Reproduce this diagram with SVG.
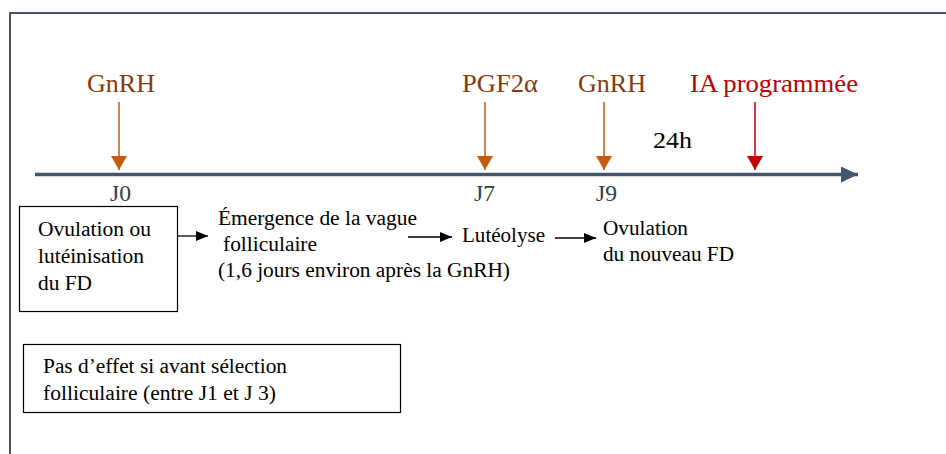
<svg xmlns="http://www.w3.org/2000/svg" width="946" height="454" viewBox="0 0 946 454" font-family="'Liberation Serif', 'Times New Roman', 'DejaVu Serif', serif">
<style>
.drug{font-size:26px;fill:#843c0c;}
.ia{font-size:26px;fill:#c00000;}
.day{font-size:23px;fill:#333f50;}
.t{font-size:20px;fill:#000;}
.box{fill:#fff;stroke:#000;stroke-width:1.2;}
.org{stroke:#c55a11;stroke-width:1.5;fill:none;}
.red{stroke:#c00000;stroke-width:1.5;fill:none;}
.blk{stroke:#000;stroke-width:1.3;fill:none;}
</style>
<defs>
<marker id="ho" markerWidth="14" markerHeight="16" refX="14" refY="8" orient="auto" markerUnits="userSpaceOnUse"><path d="M0,0 L14,8 L0,16 Z" fill="#c55a11"/></marker>
<marker id="hr" markerWidth="14" markerHeight="16" refX="14" refY="8" orient="auto" markerUnits="userSpaceOnUse"><path d="M0,0 L14,8 L0,16 Z" fill="#c00000"/></marker>
<marker id="hb" markerWidth="12" markerHeight="10" refX="12" refY="5" orient="auto" markerUnits="userSpaceOnUse"><path d="M0,0 L12,5 L0,10 Z" fill="#000"/></marker>
<marker id="ht" markerWidth="17" markerHeight="16" refX="17" refY="8" orient="auto" markerUnits="userSpaceOnUse"><path d="M0,0 L17,8 L0,16 Z" fill="#44546a"/></marker>
</defs>
<rect width="946" height="454" fill="#fff"/>
<path d="M10,460 L10,13 L960,13" fill="none" stroke="#44546a" stroke-width="2"/>
<g id="connectors">
<line x1="35" y1="174.5" x2="858" y2="174.5" stroke="#44546a" stroke-width="3.5" marker-end="url(#ht)"/>
<line class="org" x1="119" y1="102" x2="119" y2="170" marker-end="url(#ho)"/>
<line class="org" x1="485" y1="102" x2="485" y2="170" marker-end="url(#ho)"/>
<line class="org" x1="604" y1="102" x2="604" y2="170" marker-end="url(#ho)"/>
<line class="red" x1="755" y1="102" x2="755" y2="170" marker-end="url(#hr)"/>
<line class="blk" x1="178" y1="236" x2="208" y2="236" marker-end="url(#hb)"/>
<line class="blk" x1="408" y1="237" x2="452" y2="237" marker-end="url(#hb)"/>
<line class="blk" x1="555" y1="238" x2="596" y2="238" marker-end="url(#hb)"/>
</g>
<g id="gnrh1"><text class="drug" x="87" y="92" textLength="68" lengthAdjust="spacingAndGlyphs">GnRH</text></g>
<g id="pgf"><text class="drug" x="462" y="92" textLength="76" lengthAdjust="spacingAndGlyphs">PGF2α</text></g>
<g id="gnrh2"><text class="drug" x="578" y="92" textLength="68" lengthAdjust="spacingAndGlyphs">GnRH</text></g>
<g id="ia"><text class="ia" x="690" y="92" textLength="168" lengthAdjust="spacingAndGlyphs">IA programmée</text></g>
<g id="h24"><text x="653" y="148" font-size="24" fill="#000" textLength="39" lengthAdjust="spacingAndGlyphs">24h</text></g>
<g id="j0"><text class="day" x="110" y="201" textLength="21" lengthAdjust="spacingAndGlyphs">J0</text></g>
<g id="j7"><text class="day" x="474" y="201" textLength="21" lengthAdjust="spacingAndGlyphs">J7</text></g>
<g id="j9"><text class="day" x="596" y="201" textLength="21" lengthAdjust="spacingAndGlyphs">J9</text></g>
<g id="box1">
<rect class="box" x="19.5" y="206.5" width="158" height="105"/>
<text class="t" x="38" y="236" textLength="113" lengthAdjust="spacingAndGlyphs">Ovulation ou</text>
<text class="t" x="38" y="263" textLength="106" lengthAdjust="spacingAndGlyphs">lutéinisation</text>
<text class="t" x="38" y="290" textLength="54" lengthAdjust="spacingAndGlyphs">du FD</text>
</g>
<g id="emergence">
<text class="t" x="218" y="225" textLength="199" lengthAdjust="spacingAndGlyphs">Émergence de la vague</text>
<text class="t" x="223" y="251" textLength="94" lengthAdjust="spacingAndGlyphs">folliculaire</text>
<text class="t" x="218" y="277" textLength="292" lengthAdjust="spacingAndGlyphs">(1,6 jours environ après la GnRH)</text>
</g>
<g id="luteolyse"><text class="t" x="462" y="242" textLength="83" lengthAdjust="spacingAndGlyphs">Lutéolyse</text></g>
<g id="ovulation"><text class="t" x="603" y="235" textLength="85" lengthAdjust="spacingAndGlyphs">Ovulation</text><text class="t" x="603" y="261" textLength="131" lengthAdjust="spacingAndGlyphs">du nouveau FD</text></g>
<g id="box2">
<rect class="box" x="23.5" y="344.5" width="377" height="68"/>
<text class="t" x="43" y="373" textLength="244" lengthAdjust="spacingAndGlyphs">Pas d’effet si avant sélection</text>
<text class="t" x="43" y="400" textLength="233" lengthAdjust="spacingAndGlyphs">folliculaire (entre J1 et J 3)</text>
</g>
</svg>
